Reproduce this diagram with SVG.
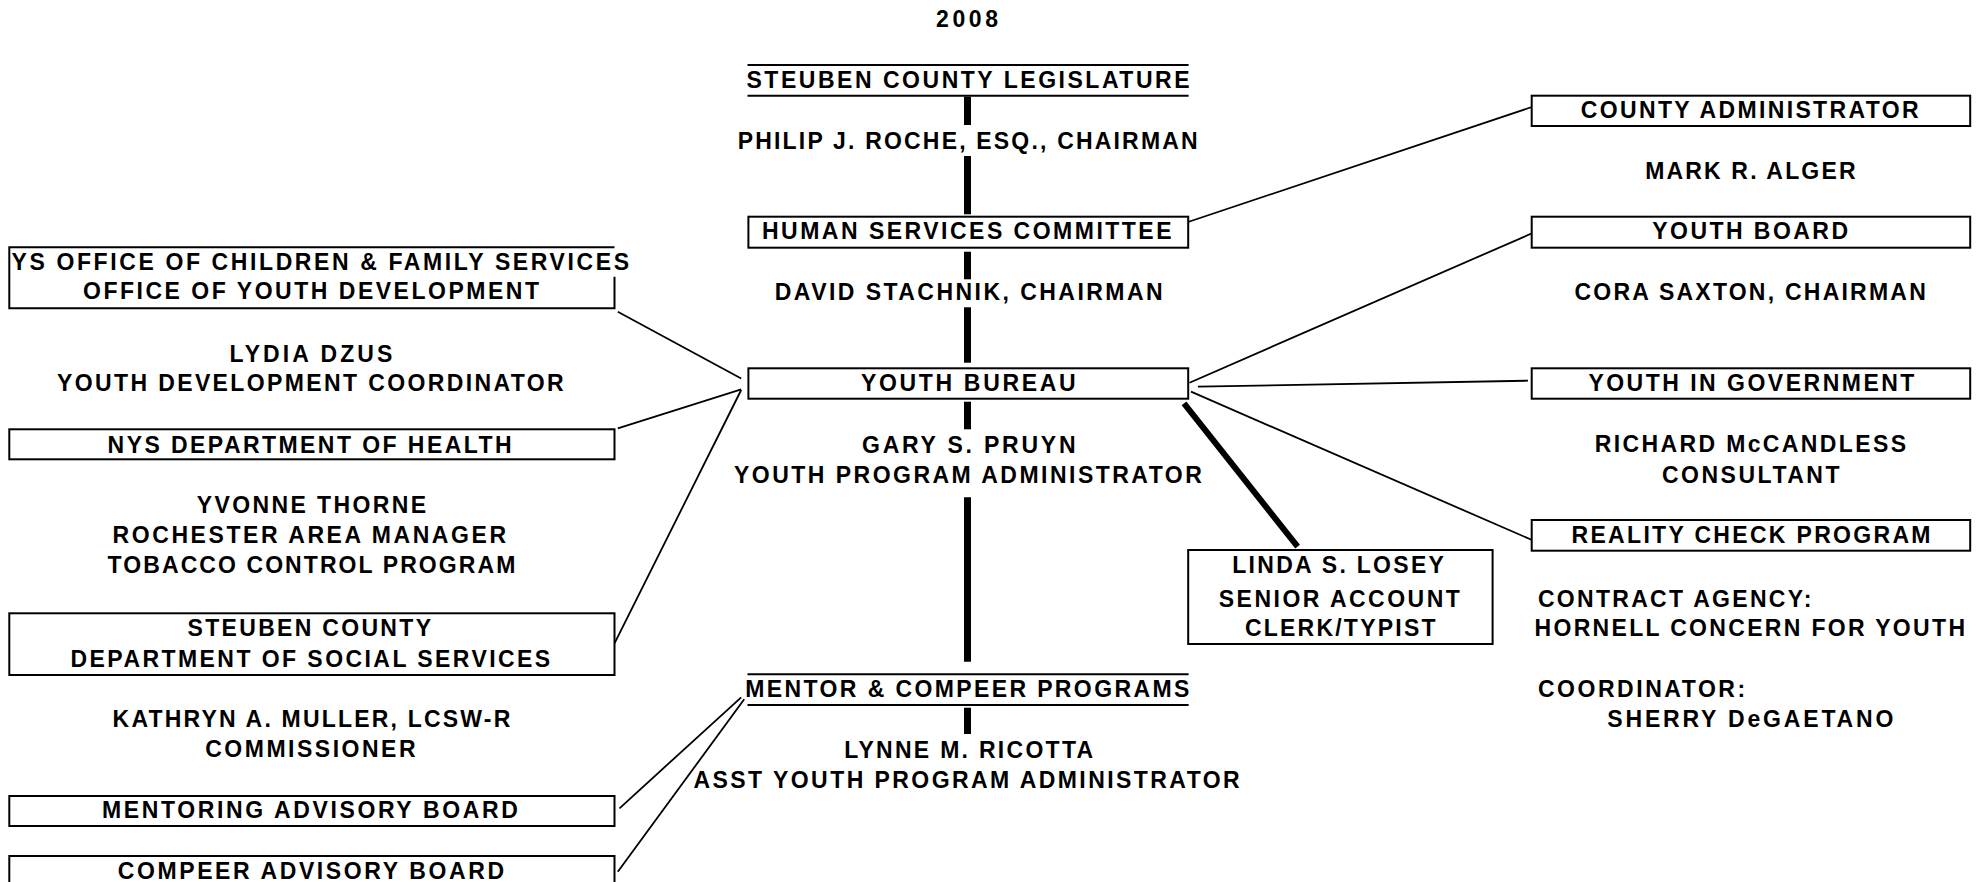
<svg xmlns="http://www.w3.org/2000/svg" width="1982" height="882" viewBox="0 0 1982 882">
<style>
text{font-family:"Liberation Sans",Arial,sans-serif;font-weight:bold;font-size:23px;fill:#000}
.box{fill:#fff;stroke:#000;stroke-width:2}
.rule{stroke:#000;stroke-width:2}
.bar{stroke:#000;stroke-width:7}
.ln{stroke:#000;stroke-width:1.8;fill:none}
</style>
<rect width="1982" height="882" fill="#fff"/>
<g id="connectors">
<line class="bar" x1="967.5" y1="96.7" x2="967.5" y2="125"/>
<line class="bar" x1="967.5" y1="156" x2="967.5" y2="214.3"/>
<line class="bar" x1="967.5" y1="251.7" x2="967.5" y2="279.3"/>
<line class="bar" x1="967.5" y1="307.3" x2="967.5" y2="362.7"/>
<line class="bar" x1="967.5" y1="401.7" x2="967.5" y2="429.3"/>
<line class="bar" x1="967.5" y1="497.3" x2="967.5" y2="661.7"/>
<line class="bar" x1="967.5" y1="707.7" x2="967.5" y2="734"/>
<line class="ln" x1="1188" y1="222" x2="1532" y2="107"/>
<line class="ln" x1="1189.5" y1="382.7" x2="1532" y2="233.3"/>
<line class="ln" x1="1197.9" y1="386.7" x2="1528" y2="380.7"/>
<line class="ln" x1="1191" y1="391.7" x2="1532" y2="540"/>
<line stroke="#000" stroke-width="6" x1="1184" y1="403.3" x2="1297.6" y2="546.7"/>
<line class="ln" x1="617.8" y1="311.7" x2="741.2" y2="378.5"/>
<line class="ln" x1="617.8" y1="428.3" x2="741.2" y2="389.3"/>
<line class="ln" x1="614.5" y1="643.3" x2="741.2" y2="390"/>
<line class="ln" x1="619.5" y1="808.3" x2="741.2" y2="697.3"/>
<line class="ln" x1="617.8" y1="871.7" x2="744.2" y2="699.3"/>
</g>
<text x="936" y="26.7" textLength="62">2008</text>
<g id="legislature">
<line class="rule" x1="747.5" y1="65" x2="1188.6" y2="65"/>
<line class="rule" x1="747.5" y1="95.7" x2="1188.6" y2="95.7"/>
<text x="746.5" y="88.3" textLength="443">STEUBEN COUNTY LEGISLATURE</text>
<text x="737.7" y="149.3" textLength="460">PHILIP J. ROCHE, ESQ., CHAIRMAN</text>
</g>
<g id="human-services">
<rect class="box" x="748.4" y="216.7" width="439.8" height="31"/>
<text x="762" y="239.3" textLength="409.5">HUMAN SERVICES COMMITTEE</text>
<text x="774.7" y="300" textLength="388">DAVID STACHNIK, CHAIRMAN</text>
</g>
<g id="youth-bureau">
<rect class="box" x="748.4" y="368.3" width="439.8" height="30.4"/>
<text x="861" y="391" textLength="214.6">YOUTH BUREAU</text>
<text x="862" y="452.7" textLength="213.6">GARY S. PRUYN</text>
<text x="734" y="482.7" textLength="467.8">YOUTH PROGRAM ADMINISTRATOR</text>
</g>
<g id="mentor">
<line class="rule" x1="747.5" y1="674.3" x2="1188.6" y2="674.3"/>
<line class="rule" x1="747.5" y1="705" x2="1188.6" y2="705"/>
<text x="745.3" y="696.7" textLength="444">MENTOR &amp; COMPEER PROGRAMS</text>
<text x="844.2" y="758.3" textLength="249">LYNNE M. RICOTTA</text>
<text x="693.5" y="788.3" textLength="546.2">ASST YOUTH PROGRAM ADMINISTRATOR</text>
</g>
<g id="linda">
<rect class="box" x="1188.2" y="550" width="304.4" height="94"/>
<text x="1232.2" y="573.3" textLength="211.7">LINDA S. LOSEY</text>
<text x="1218.8" y="606.7" textLength="241">SENIOR ACCOUNT</text>
<text x="1244.9" y="636" textLength="190.6">CLERK/TYPIST</text>
</g>
<g id="county-admin">
<rect class="box" x="1531.7" y="95.7" width="438.5" height="30.3"/>
<text x="1580.8" y="118.3" textLength="337.8">COUNTY ADMINISTRATOR</text>
<text x="1645.2" y="179.3" textLength="210.3">MARK R. ALGER</text>
</g>
<g id="youth-board">
<rect class="box" x="1531.7" y="216.7" width="438.5" height="31"/>
<text x="1652.3" y="239.3" textLength="195.7">YOUTH BOARD</text>
<text x="1574.5" y="300" textLength="351.3">CORA SAXTON, CHAIRMAN</text>
</g>
<g id="youth-in-government">
<rect class="box" x="1531.7" y="368.3" width="438.5" height="30.4"/>
<text x="1588.4" y="391" textLength="326">YOUTH IN GOVERNMENT</text>
<text x="1594.7" y="452" textLength="311.3">RICHARD McCANDLESS</text>
<text x="1662" y="482.7" textLength="177.5">CONSULTANT</text>
</g>
<g id="reality-check">
<rect class="box" x="1531.7" y="520" width="438.5" height="30.7"/>
<text x="1571.5" y="543.3" textLength="359">REALITY CHECK PROGRAM</text>
<text x="1537.9" y="606.7" textLength="273.4">CONTRACT AGENCY:</text>
<text x="1534.5" y="636" textLength="430.5">HORNELL CONCERN FOR YOUTH</text>
<text x="1537.9" y="697.3" textLength="207.3">COORDINATOR:</text>
<text x="1607.3" y="727.3" textLength="286">SHERRY DeGAETANO</text>
</g>
<g id="ocfs">
<path class="box" d="M614.5 247.3 H9.3 V308.3 H614.5 V276.7"/>
<text x="11.6" y="270" textLength="617.4">YS OFFICE OF CHILDREN &amp; FAMILY SERVICES</text>
<text x="83" y="299.3" textLength="456">OFFICE OF YOUTH DEVELOPMENT</text>
<text x="229.6" y="361.7" textLength="162.8">LYDIA DZUS</text>
<text x="57" y="391" textLength="506.7">YOUTH DEVELOPMENT COORDINATOR</text>
</g>
<g id="health">
<rect class="box" x="9.3" y="429.3" width="605.2" height="30"/>
<text x="107.6" y="453.3" textLength="404">NYS DEPARTMENT OF HEALTH</text>
<text x="196.8" y="512.7" textLength="229.2">YVONNE THORNE</text>
<text x="112.6" y="542.7" textLength="393.4">ROCHESTER AREA MANAGER</text>
<text x="107.6" y="572.7" textLength="407.7">TOBACCO CONTROL PROGRAM</text>
</g>
<g id="dss">
<rect class="box" x="9.3" y="613.3" width="605.2" height="61.7"/>
<text x="187.6" y="636" textLength="243.4">STEUBEN COUNTY</text>
<text x="70.5" y="666.7" textLength="479.7">DEPARTMENT OF SOCIAL SERVICES</text>
<text x="112.6" y="727.3" textLength="397.7">KATHRYN A. MULLER, LCSW-R</text>
<text x="205.2" y="757.3" textLength="210.4">COMMISSIONER</text>
</g>
<g id="mentoring-board">
<rect class="box" x="9.3" y="796" width="605.2" height="30"/>
<text x="102" y="817.7" textLength="415.8">MENTORING ADVISORY BOARD</text>
</g>
<g id="compeer-board">
<rect class="box" x="9.3" y="856" width="605.2" height="40"/>
<text x="117.7" y="879.3" textLength="386.3">COMPEER ADVISORY BOARD</text>
</g>
</svg>
